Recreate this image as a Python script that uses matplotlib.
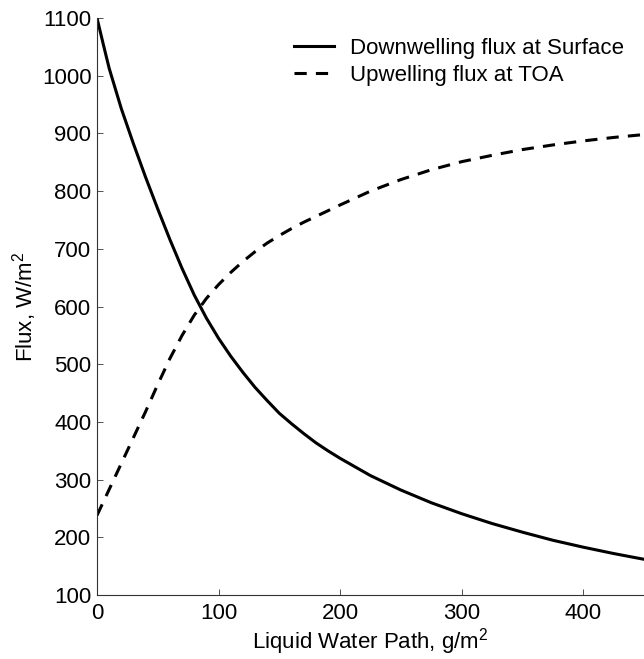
import matplotlib
matplotlib.use("Agg")
import matplotlib.pyplot as plt

# Liquid water path (g/m^2) and fluxes (W/m^2)
lwp_down = [0, 5, 10, 20, 30, 40, 50, 60, 70, 80, 90, 100, 110, 120, 130, 140,
            150, 160, 170, 180, 190, 200, 225, 250, 275, 300, 325, 350, 375,
            400, 425, 450]
flux_down = [1100, 1056, 1013, 943, 882, 824, 769, 716, 666, 620, 580, 545, 514,
             486, 460, 437, 415, 397, 380, 364, 350, 337, 307, 282, 260, 241,
             224, 209, 195, 183, 172, 162]

lwp_up = [0, 10, 20, 30, 40, 50, 60, 70, 80, 90, 100, 110, 120, 130, 140, 150,
          160, 170, 180, 190, 200, 225, 250, 275, 300, 325, 350, 375, 400,
          425, 450]
flux_up = [238, 283, 328, 373, 418, 465, 510, 550, 585, 614, 638, 659, 678, 695,
           710, 723, 735, 746, 756, 766, 776, 800, 820, 837, 851, 862, 872,
           880, 887, 893, 898]

plt.rcParams['font.family'] = ['Liberation Sans', 'DejaVu Sans']
plt.rcParams['mathtext.fontset'] = 'custom'
plt.rcParams['mathtext.rm'] = 'Liberation Sans'

fig = plt.figure(figsize=(6.44, 6.59), dpi=100)
ax = fig.add_axes([0.1506, 0.097, 0.8494, 0.8757])

ax.plot(lwp_down, flux_down, color="black", lw=2.2, label="Downwelling flux at Surface")
ax.plot(lwp_up, flux_up, color="black", lw=2.2, dashes=(4, 3), label="Upwelling flux at TOA")

ax.set_xlim(0, 450)
ax.set_ylim(100, 1100)
ax.set_xticks([0, 100, 200, 300, 400])
ax.set_yticks(range(100, 1101, 100))

for side in ("top", "right"):
    ax.spines[side].set_visible(False)
for side in ("left", "bottom"):
    ax.spines[side].set_linewidth(0.8)
    ax.spines[side].set_color("#333333")
ax.tick_params(direction="in", length=4, width=0.6, labelsize=16, pad=4,
               colors="#333333", labelcolor="black")
ax.tick_params(axis="x", pad=6)

ax.set_xlabel("Liquid Water Path, g/m$^2$", fontsize=16, labelpad=1)
ax.set_ylabel("Flux, W/m$^2$", fontsize=16, labelpad=2)

ax.legend(loc="upper right", frameon=False, fontsize=16, handlelength=1.8,
          handletextpad=0.7, labelspacing=0.25, bbox_to_anchor=(1.0, 1.0))

fig.savefig("out.png", dpi=100)
